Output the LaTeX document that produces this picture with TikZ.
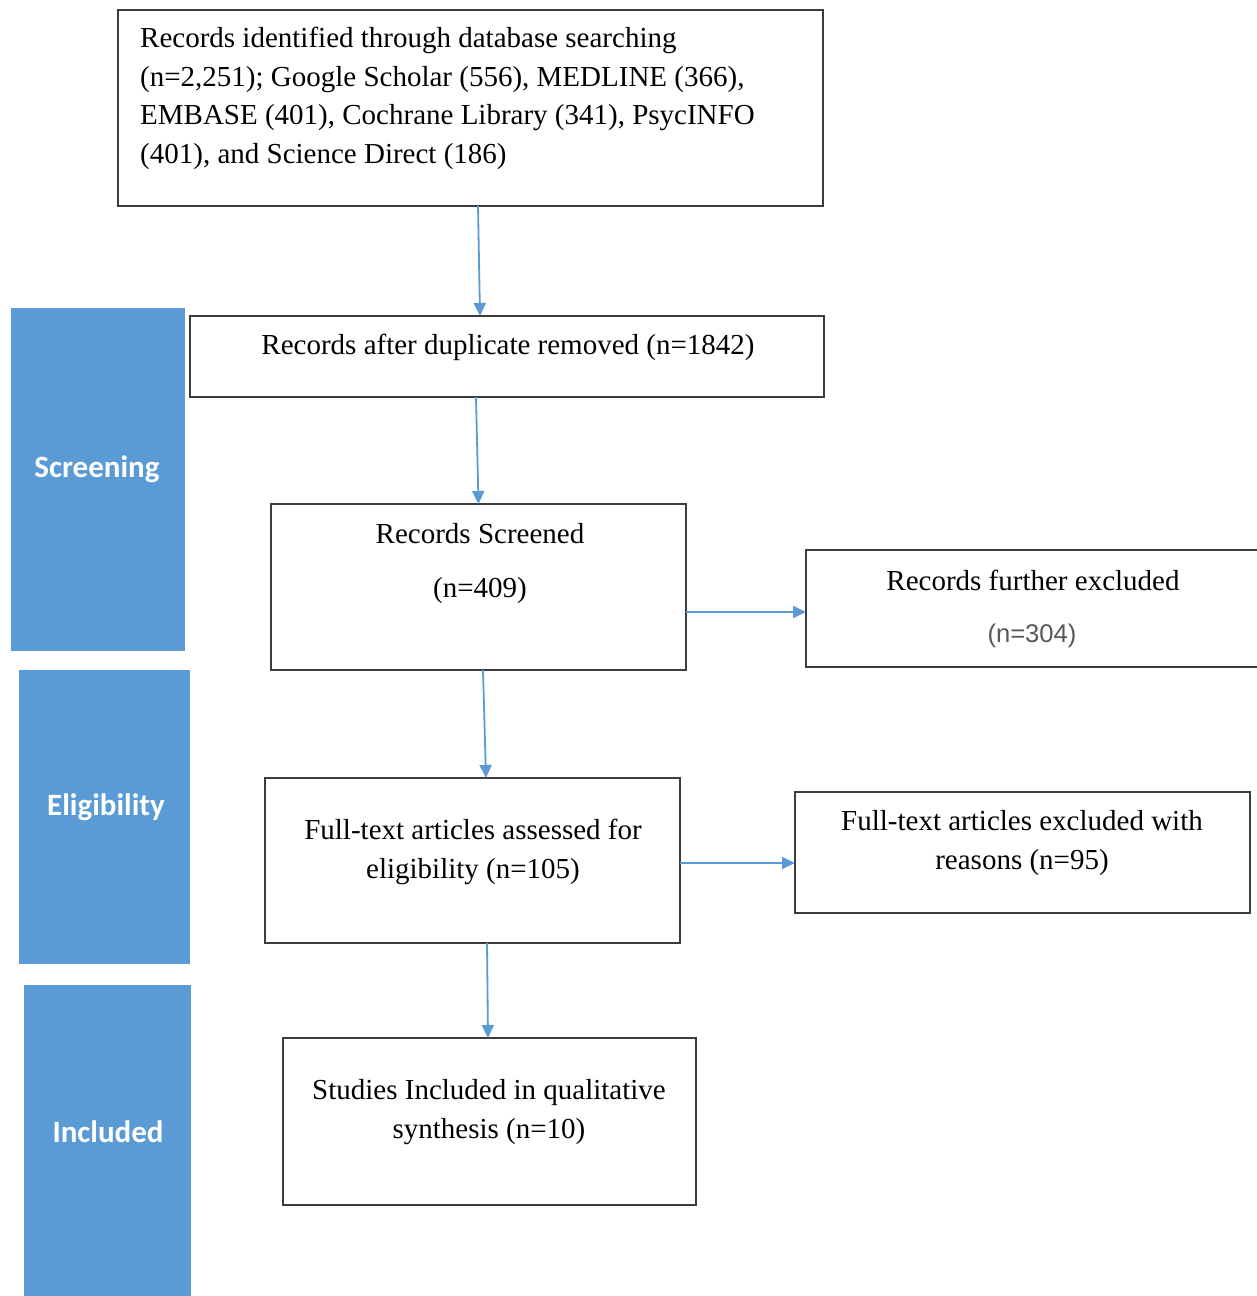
\documentclass[tikz,border=0pt]{standalone}
\usepackage{fontspec}
\setmainfont{Liberation Serif}
\newfontfamily\calibrifont{Carlito}
\newfontfamily\arialfont{Liberation Sans}
\usetikzlibrary{arrows.meta}
\definecolor{barblue}{RGB}{91,155,213}
\definecolor{boxline}{RGB}{60,60,60}
\definecolor{arrowblue}{RGB}{91,155,213}
\begin{document}
\begin{tikzpicture}[x=1pt,y=-1pt,
  box/.style={draw=boxline, line width=2.2pt, fill=white, inner sep=0pt, outer sep=0pt, anchor=north west},
  bar/.style={fill=barblue, draw=none, inner sep=0pt, outer sep=0pt, anchor=north west},
  barlabel/.style={font=\calibrifont\bfseries\fontsize{31}{36}\selectfont, text=white, inner sep=0pt},
  txt/.style={font=\fontsize{29}{38.5}\selectfont, inner sep=0pt, align=center},
  graytxt/.style={font=\arialfont\fontsize{25.6}{30}\selectfont, text=black!65, inner sep=0pt},
  arr/.style={draw=arrowblue, line width=1.8pt, -{Triangle[length=13pt,width=12pt]}}
]
\useasboundingbox (0,0) rectangle (1257,1296);
\fill[white] (0,0) rectangle (1257,1296);

% side bars
\node[bar, minimum width=174pt, minimum height=343pt] (sbar) at (11,308) {};
\node[bar, minimum width=171pt, minimum height=294pt] (ebar) at (19,670) {};
\node[bar, minimum width=167pt, minimum height=311pt] (ibar) at (24,985) {};
\node[barlabel] (sl) at (97,469) {Screening};
\node[barlabel] (el) at (106,807) {Eligibility};
\node[barlabel] (il) at (108,1132) {Included};

% boxes
\node[box, minimum width=705pt, minimum height=196pt] (b1) at (118,10) {};
\node[box, minimum width=634pt, minimum height=81pt] (b2) at (190,316) {};
\node[box, minimum width=415pt, minimum height=166pt] (b3) at (271,504) {};
\node[box, minimum width=456pt, minimum height=117pt] (b4) at (806,550) {};
\node[box, minimum width=415pt, minimum height=165pt] (b5) at (265,778) {};
\node[box, minimum width=455pt, minimum height=121pt] (b6) at (795,792) {};
\node[box, minimum width=413pt, minimum height=167pt] (b7) at (283,1038) {};

% texts
\node[txt, align=left, anchor=north west] (t1) at (140,27)
  {Records identified through database searching\\
   (n=2,251); Google Scholar (556), MEDLINE (366),\\
   EMBASE (401), Cochrane Library (341), PsycINFO\\
   (401), and Science Direct (186)};
\node[txt] (t2) at (508,347) {Records after duplicate removed (n=1842)};
\node[txt] (t3a) at (480,534) {Records Screened};
\node[txt] (t3b) at (480,591) {(n=409)};
\node[txt] (t4a) at (1033,580) {Records further excluded};
\node[graytxt] (t4b) at (1032,636) {(n=304)};
\node[txt] (t5) at (473,852) {Full-text articles assessed for\\eligibility (n=105)};
\node[txt] (t6) at (1022,843) {Full-text articles excluded with\\reasons (n=95)};
\node[txt] (t7) at (489,1112) {Studies Included in qualitative\\synthesis (n=10)};

% connectors
\draw[arr] ([xshift=7.5pt]b1.south) -- ([xshift=-27pt]b2.north);
\draw[arr] ([xshift=-31pt]b2.south) -- ([xshift=0pt]b3.north);
\draw[arr] ([xshift=4.5pt]b3.south) -- ([xshift=13.5pt]b5.north);
\draw[arr] ([xshift=14.5pt]b5.south) -- ([xshift=-1.5pt]b7.north);
\draw[arr] ([yshift=-25pt]b3.east) -- ([yshift=-3.5pt]b4.west);
\draw[arr] ([yshift=-2.5pt]b5.east) -- ([yshift=-10.5pt]b6.west);
\end{tikzpicture}
\end{document}
